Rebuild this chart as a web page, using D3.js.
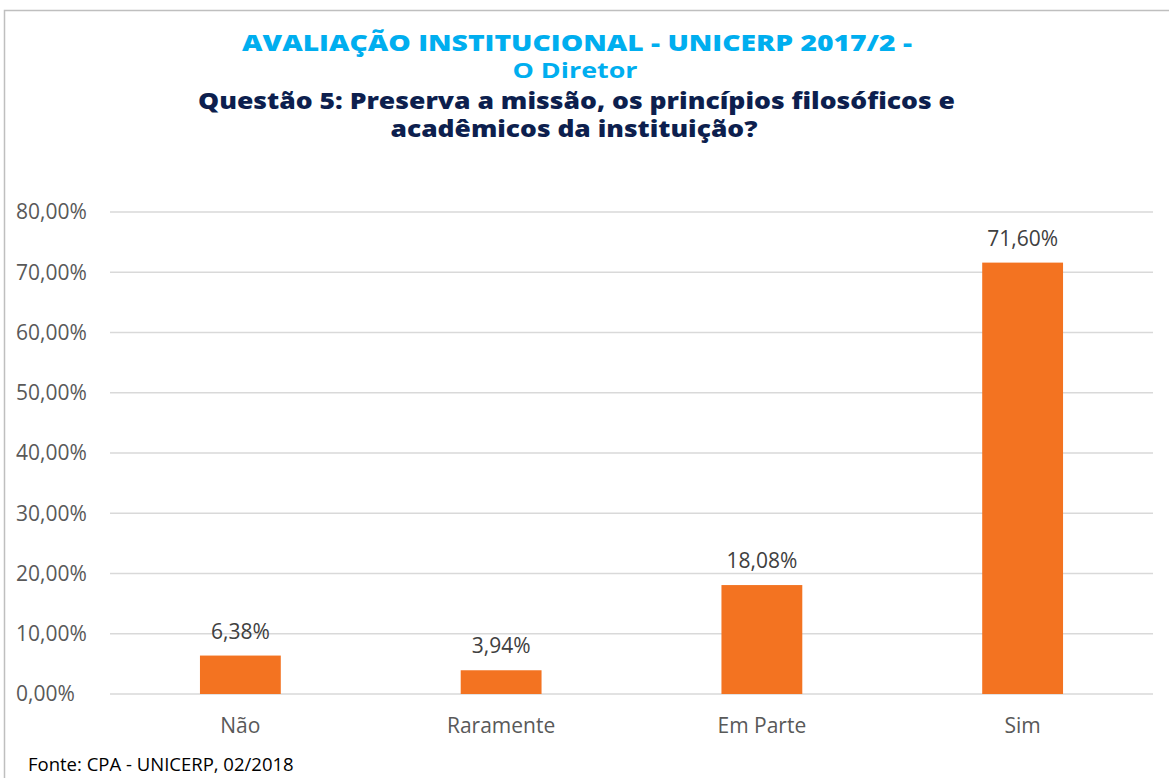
<!DOCTYPE html>
<html>
<head>
<meta charset="utf-8">
<script src="https://d3js.org/d3.v7.min.js"></script>
<style>
body { margin: 0; background: #fff; }
svg { display: block; }
</style>
</head>
<body>
<script>
// chart data
const categories = ["Não", "Raramente", "Em Parte", "Sim"];
const values = [6.38, 3.94, 18.08, 71.60];
const yTicks = [0, 10, 20, 30, 40, 50, 60, 70, 80];
const titleLines = ["AVALIAÇÃO INSTITUCIONAL - UNICERP 2017/2 -", "O Diretor"];
const questionLines = ["Questão 5: Preserva a missão, os princípios filosóficos e", "acadêmicos da instituição?"];
const sourceNote = "Fonte: CPA - UNICERP, 02/2018";

const width = 1169, height = 778;
const plot = { left: 110, right: 1153, top: 212, bottom: 694 };

const svg = d3.select("body").append("svg")
  .attr("width", width)
  .attr("height", height);

// chart frame
svg.append("rect")
  .attr("x", 4.5).attr("y", 10.5)
  .attr("width", 1180).attr("height", 800)
  .attr("fill", "none")
  .attr("stroke", "#bfbfbf")
  .attr("stroke-width", 1.5);

var x = d3.scaleBand()
  .domain(categories)
  .range([plot.left, plot.right])
  .paddingInner(0.69)
  .paddingOuter(0.345);

var y = d3.scaleLinear()
  .domain([0, 80])
  .range([plot.bottom, plot.top]);

var fmt = function(v) { return v.toFixed(2).replace(".", ",") + "%"; };

// gridlines
svg.append("g").selectAll("line")
  .data(yTicks)
  .enter().append("line")
    .attr("x1", plot.left).attr("x2", plot.right)
    .attr("y1", function(d) { return y(d); })
    .attr("y2", function(d) { return y(d); })
    .attr("stroke", "#d9d9d9")
    .attr("stroke-width", 1.5);

// y axis labels
svg.append("g").selectAll("text")
  .data(yTicks)
  .enter().append("text")
    .attr("x", 16)
    .attr("y", function(d) { return y(d); })
    .attr("dy", "0.35em")
    .attr("font-family", "Open Sans, sans-serif")
    .attr("font-size", 21)
    .attr("fill", "#595959")
    .text(fmt);

// bars
svg.append("g").selectAll("rect")
  .data(values)
  .enter().append("rect")
    .attr("x", function(d, i) { return x(categories[i]); })
    .attr("y", function(d) { return y(d); })
    .attr("width", x.bandwidth())
    .attr("height", function(d) { return y(0) - y(d); })
    .attr("fill", "#f37321");

// value labels
svg.append("g").selectAll("text")
  .data(values)
  .enter().append("text")
    .attr("x", function(d, i) { return x(categories[i]) + x.bandwidth() / 2; })
    .attr("y", function(d) { return y(d) - 17; })
    .attr("text-anchor", "middle")
    .attr("font-family", "Open Sans, sans-serif")
    .attr("font-size", 21)
    .attr("fill", "#404040")
    .text(fmt);

// category labels
svg.append("g").selectAll("text")
  .data(categories)
  .enter().append("text")
    .attr("x", function(d) { return x(d) + x.bandwidth() / 2; })
    .attr("y", 733)
    .attr("text-anchor", "middle")
    .attr("font-family", "Open Sans, sans-serif")
    .attr("font-size", 21)
    .attr("fill", "#595959")
    .text(function(d) { return d; });

// titles (heavy display face, stretched to the original widths)
function heading(txt, cx, yy, size, weight, color, len) {
  svg.append("text")
    .attr("x", cx).attr("y", yy)
    .attr("text-anchor", "middle")
    .attr("font-family", "Open Sans, sans-serif")
    .attr("font-weight", weight)
    .attr("font-size", size)
    .attr("fill", color)
    .attr("textLength", len)
    .attr("lengthAdjust", "spacingAndGlyphs")
    .text(txt);
}

heading(titleLines[0], 577, 51, 23, 800, "#00aeef", 670);
heading(titleLines[1], 575, 78, 21, 700, "#00aeef", 125);
heading(questionLines[0], 576.5, 109, 22, 800, "#0d1f4e", 757);
heading(questionLines[1], 574, 137, 22, 800, "#0d1f4e", 367);

// source note
svg.append("text")
  .attr("x", 28).attr("y", 771)
  .attr("font-family", "Open Sans, sans-serif")
  .attr("font-size", 18.5)
  .attr("fill", "#000")
  .text(sourceNote);
</script>
</body>
</html>
